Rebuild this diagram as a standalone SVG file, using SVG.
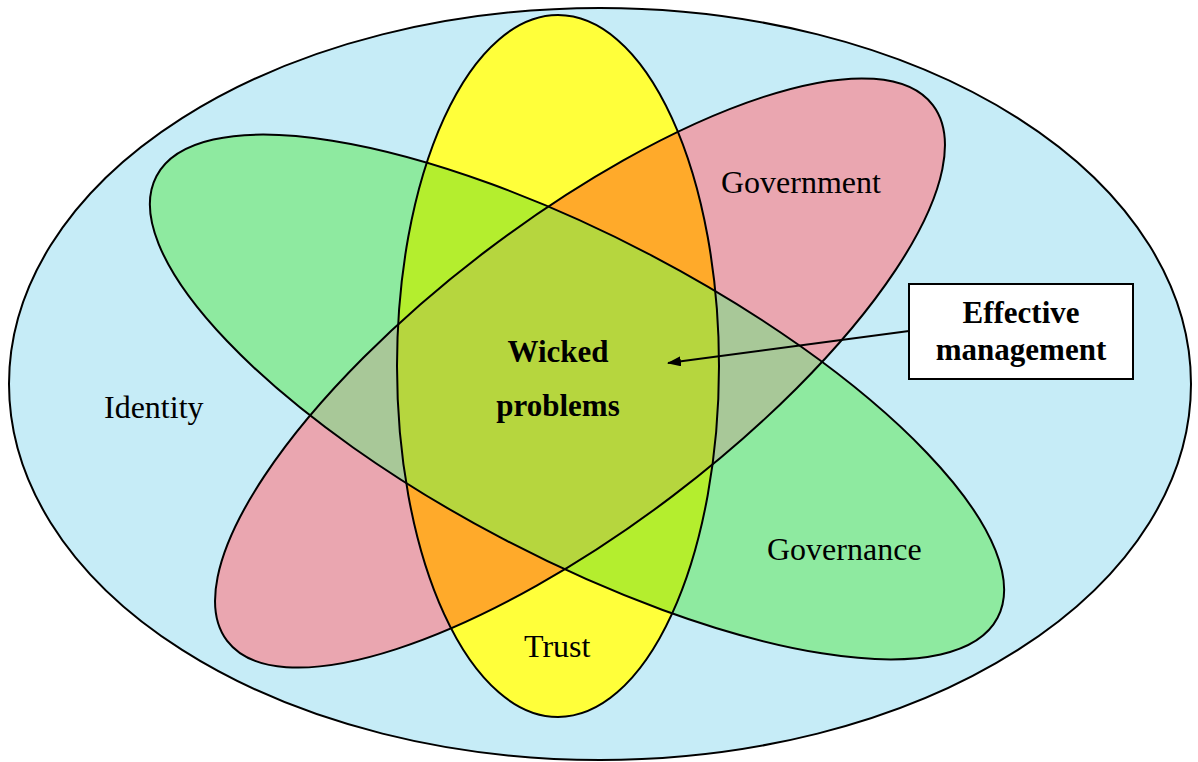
<svg xmlns="http://www.w3.org/2000/svg" xmlns:xlink="http://www.w3.org/1999/xlink" width="1198" height="762" viewBox="0 0 1198 762">
<style>
.outline{fill:none;stroke:#000;stroke-width:2}
.lbl{font-family:"Liberation Serif","Times New Roman",serif;font-size:32px;fill:#000}
.bold{font-weight:bold;text-anchor:middle;font-size:31px}
</style>
<defs>
<ellipse id="shRed" cx="580" cy="373" rx="443" ry="154" transform="rotate(-37.2 580 373)"/>
<ellipse id="shGreen" cx="577" cy="397" rx="475" ry="160" transform="rotate(27.7 577 397)"/>
<ellipse id="shYellow" cx="558" cy="366" rx="161" ry="351"/>
<clipPath id="cRed"><ellipse cx="580" cy="373" rx="443" ry="154" transform="rotate(-37.2 580 373)"/></clipPath>
<clipPath id="cGreen"><ellipse cx="577" cy="397" rx="475" ry="160" transform="rotate(27.7 577 397)"/></clipPath>
<marker id="arr" viewBox="0 0 14 10" refX="13" refY="5" markerWidth="14" markerHeight="10" orient="auto" markerUnits="userSpaceOnUse">
<path d="M0,0 L14,5 L0,10 z" fill="#000"/>
</marker>
</defs>
<rect width="1198" height="762" fill="#fff"/>
<g id="identity">
<ellipse cx="600" cy="384" rx="591" ry="376" fill="#c6ecf7" stroke="#000" stroke-width="2"/>
<text class="lbl" x="104" y="418">Identity</text>
</g>
<g id="government">
<use xlink:href="#shRed" fill="#eaa6b0"/>
</g>
<g id="governance">
<use xlink:href="#shGreen" fill="#8eeaa0"/>
<use xlink:href="#shGreen" fill="#a8c898" clip-path="url(#cRed)"/>
</g>
<g id="trust">
<use xlink:href="#shYellow" fill="#ffff3a"/>
<use xlink:href="#shYellow" fill="#ffaa2a" clip-path="url(#cRed)"/>
<use xlink:href="#shYellow" fill="#b4ee2e" clip-path="url(#cGreen)"/>
<g clip-path="url(#cRed)"><use xlink:href="#shYellow" fill="#b6d63e" clip-path="url(#cGreen)"/></g>
</g>
<g id="outlines">
<use xlink:href="#shRed" class="outline"/>
<use xlink:href="#shGreen" class="outline"/>
<use xlink:href="#shYellow" class="outline"/>
</g>
<g id="labels">
<text class="lbl" x="721" y="193">Government</text>
<text class="lbl" x="767" y="560">Governance</text>
<text class="lbl" x="524" y="657">Trust</text>
</g>
<g id="wicked-problems">
<text class="lbl bold" x="558" y="362">Wicked</text>
<text class="lbl bold" x="558" y="416">problems</text>
</g>
<g id="effective-management">
<rect x="909" y="284" width="224" height="95" fill="#fff" stroke="#000" stroke-width="2"/>
<text class="lbl bold" x="1021" y="323">Effective</text>
<text class="lbl bold" x="1021" y="360">management</text>
</g>
<g id="connectors">
<line x1="909" y1="331" x2="668" y2="363" stroke="#000" stroke-width="2" marker-end="url(#arr)"/>
</g>
</svg>
